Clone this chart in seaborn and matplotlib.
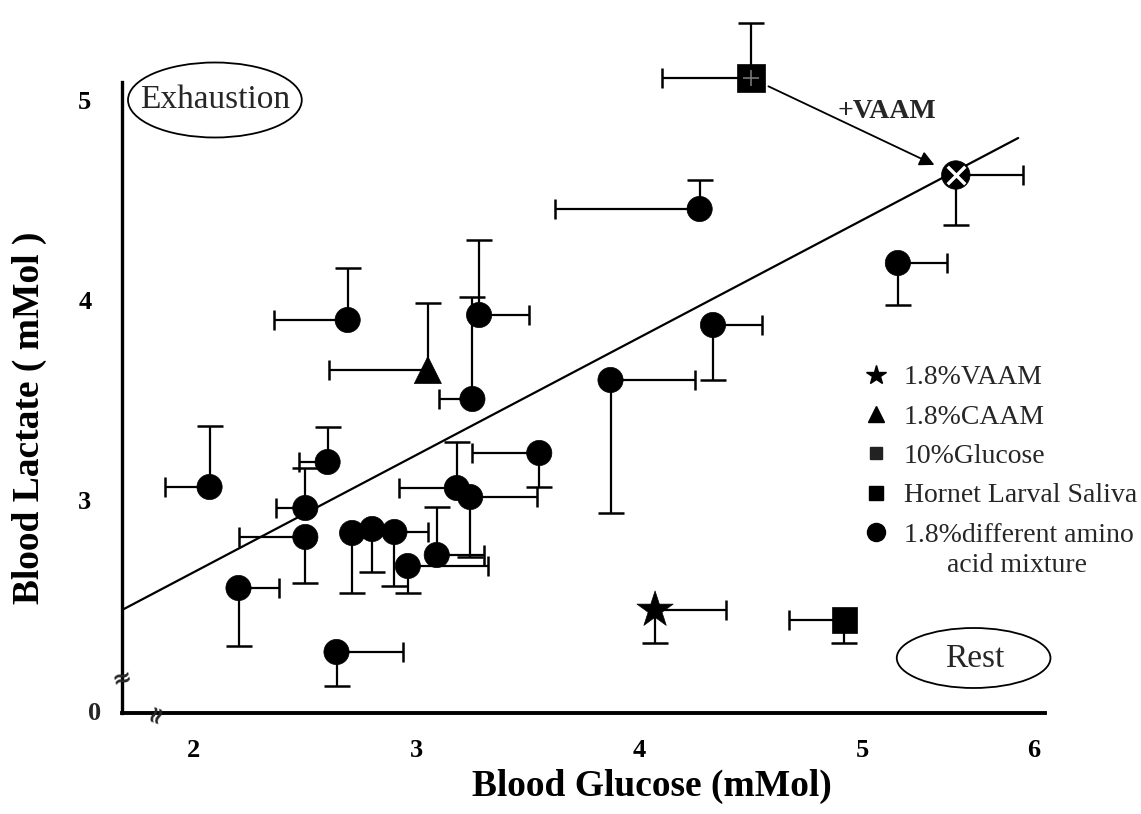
import numpy as np
import pandas as pd
import matplotlib
matplotlib.use("Agg")
import matplotlib.pyplot as plt
import seaborn as sns
from matplotlib.patches import Ellipse
from matplotlib.lines import Line2D

# ---------------- data ----------------
# signed errors: negative xerr -> bar to the left, negative yerr -> bar downwards
amino_x = [2.07, 2.20, 2.50, 2.50, 2.60, 2.64, 2.69, 2.71, 2.80, 2.90, 2.96,
           3.09, 3.18, 3.24, 3.25, 3.28, 3.55, 3.87, 4.27, 4.33, 5.16]
amino_y = [3.065, 2.56, 2.815, 2.96, 3.19, 2.24, 3.90, 2.835, 2.855, 2.84, 2.67,
           2.725, 3.06, 3.015, 3.505, 3.925, 3.235, 3.60, 4.455, 3.875, 4.185]
amino_xerr = [-0.20, 0.18, -0.30, -0.13, -0.13, 0.30, -0.33, 0.0, 0.0, 0.15, 0.36,
              0.21, -0.26, 0.30, -0.15, 0.225, -0.30, 0.38, -0.65, 0.22, 0.22]
amino_yerr = [0.305, -0.29, -0.23, 0.20, 0.175, -0.17, 0.26, -0.30, -0.215, -0.27, -0.135,
              0.24, 0.23, -0.30, 0.51, 0.375, -0.17, -0.665, 0.145, -0.275, -0.21]

vaam_x, vaam_y, vaam_xerr, vaam_yerr = [4.07], [2.45], [0.32], [-0.165]
caam_x, caam_y, caam_xerr, caam_yerr = [3.05], [3.65], [-0.445], [0.335]
gluc_x, gluc_y, gluc_xerr, gluc_yerr = [4.50], [5.11], [-0.40], [0.275]
horn_x, horn_y, horn_xerr, horn_yerr = [4.92], [2.40], [-0.25], [-0.115]
plus_x, plus_y, plus_xerr, plus_yerr = [5.42], [4.625], [0.30], [-0.25]

fit_x = [1.677, 5.70]
fit_y = [2.45, 4.81]

legend_labels = ["1.8%VAAM", "1.8%CAAM", "10%Glucose", "Hornet Larval Saliva",
                 "1.8%different amino"]
x_tick_vals = [2, 3, 4, 5, 5.77]
x_tick_labels = ["2", "3", "4", "5", "6"]
y_tick_vals = [3, 4, 5]
y_tick_labels = ["3", "4", "5"]

# ---------------- build table ----------------
groups = [("amino", amino_x, amino_y, amino_xerr, amino_yerr),
          ("vaam", vaam_x, vaam_y, vaam_xerr, vaam_yerr),
          ("caam", caam_x, caam_y, caam_xerr, caam_yerr),
          ("gluc", gluc_x, gluc_y, gluc_xerr, gluc_yerr),
          ("horn", horn_x, horn_y, horn_xerr, horn_yerr),
          ("plus", plus_x, plus_y, plus_xerr, plus_yerr)]
rows = []
for g, xs, ys, xe, ye in groups:
    for a, b, c, d in zip(xs, ys, xe, ye):
        rows.append(dict(group=g, x=a, y=b, xe=c, ye=d))
df = pd.DataFrame(rows)

sns.set_theme(style="white")
plt.rcParams["font.family"] = ["Liberation Serif", "DejaVu Serif"]

fig = plt.figure(figsize=(11.41, 8.14), dpi=100)
W, H = 1141, 814
ax = fig.add_axes([122 / W, (H - 713) / H, (1085 - 122) / W, 713 / H])

# error bars (one-sided)
left = np.clip(-df["xe"], 0, None)
right = np.clip(df["xe"], 0, None)
down = np.clip(-df["ye"], 0, None)
up = np.clip(df["ye"], 0, None)
ax.errorbar(df["x"], df["y"], xerr=[left, right], yerr=[down, up], fmt="none",
            ecolor="black", elinewidth=1.6, capsize=0, zorder=2)
hx = df[df["xe"] != 0]
ax.plot(hx["x"] + hx["xe"], hx["y"], ls="none", marker="|", ms=14, mew=1.8,
        color="black", zorder=2)
vy = df[df["ye"] != 0]
ax.plot(vy["x"], vy["y"] + vy["ye"], ls="none", marker="_", ms=19, mew=1.8,
        color="black", zorder=2)

# fit line
ax.plot(fit_x, fit_y, color="black", lw=1.6, zorder=1)

# markers via seaborn
markers = {"amino": "o", "vaam": "*", "caam": "^", "gluc": "s", "horn": "s", "plus": "o"}
sizes = {"amino": 330, "vaam": 750, "caam": 380, "gluc": 420, "horn": 340, "plus": 420}
sns.scatterplot(data=df, x="x", y="y", style="group", markers=markers,
                size="group", sizes=sizes, color="black", edgecolor="black",
                linewidth=0.5, legend=False, ax=ax, zorder=3)
ax.scatter(plus_x, plus_y, marker="x", s=160, color="white", linewidths=2.4, zorder=4)
ax.scatter(gluc_x, gluc_y, marker="+", s=120, color="#777777", linewidths=1.2, zorder=4)

# arrow glucose -> +VAAM
ax.annotate("", xy=(plus_x[0], plus_y[0]), xytext=(gluc_x[0], gluc_y[0]),
            arrowprops=dict(arrowstyle="-|>", color="black", lw=1.3,
                            mutation_scale=22, shrinkA=14, shrinkB=17), zorder=3)
ax.text(5.11, 4.94, "+VAAM", fontsize=20, fontweight="bold", ha="center", va="center")

# ellipses with labels
ax.add_patch(Ellipse((2.094, 5.0), 0.78, 0.375, fill=False, ec="black", lw=1.3, zorder=3,
                     clip_on=False))
ax.text(2.094, 5.0, "Exhaustion", fontsize=24, ha="center", va="center")
ax.add_patch(Ellipse((5.50, 2.21), 0.69, 0.30, fill=False, ec="black", lw=1.3, zorder=3))
ax.text(5.505, 2.205, "Rest", fontsize=24, ha="center", va="center")

# axes
ax.set_xlim(1.677, 6.0)
ax.set_ylim(1.935, 5.5)
for s in ["top", "right"]:
    ax.spines[s].set_visible(False)
ax.spines["left"].set_bounds(1.935, 5.09)
ax.spines["bottom"].set_bounds(1.677, 5.82)
ax.spines["left"].set_linewidth(2.4)
ax.spines["bottom"].set_linewidth(2.8)
for s in ["left", "bottom"]:
    ax.spines[s].set_color("black")
ax.set_xticks(x_tick_vals)
ax.set_xticklabels(x_tick_labels)
ax.set_yticks(y_tick_vals)
ax.set_yticklabels(y_tick_labels)
ax.tick_params(axis="x", direction="out", length=7, width=1.5, pad=12,
               labelsize=19, colors="black")
ax.tick_params(axis="y", direction="out", length=12, width=1.5, pad=10,
               labelsize=19, colors="black")
for t in ax.get_xticklabels() + ax.get_yticklabels():
    t.set_fontweight("bold")
ax.text((95 - 122) / 963, 1.935, "0", transform=ax.get_yaxis_transform(),
        fontsize=19, fontweight="bold", ha="center", va="center")

# axis breaks
ax.text(0.0, 2.11, "\u2248", transform=ax.get_yaxis_transform(), fontsize=17,
        family="DejaVu Sans", fontweight="bold", ha="center", va="center",
        rotation=15, clip_on=False, zorder=5)
ax.text(1.83, 1.935, "\u2248", fontsize=17, family="DejaVu Sans", fontweight="bold",
        ha="center", va="center", rotation=70, clip_on=False, zorder=5)

ax.set_xlabel("Blood Glucose (mMol)", fontsize=27, fontweight="bold", color="black")
ax.set_ylabel("Blood Lactate ( mMol )", fontsize=27, fontweight="bold", color="black")
ax.xaxis.set_label_coords(0.55, -0.078)
ax.yaxis.set_label_coords(-0.078, 0.414)

# legend
handles = [Line2D([], [], ls="none", marker="*", ms=15, color="black"),
           Line2D([], [], ls="none", marker="^", ms=11, color="black"),
           Line2D([], [], ls="none", marker="s", ms=9, color="#222222"),
           Line2D([], [], ls="none", marker="s", ms=10, color="black"),
           Line2D([], [], ls="none", marker="o", ms=13, color="black")]
leg = fig.legend(handles, legend_labels, loc="upper left",
                 bbox_to_anchor=(862 / W, 1 - 365 / H), frameon=False,
                 fontsize=20, handlelength=1.0, handletextpad=0.5,
                 labelspacing=0.5, borderpad=0, borderaxespad=0)
fig.text(1017 / W, 1 - 566 / H, "acid mixture", fontsize=20, ha="center", va="center")

fig.savefig("out.png", dpi=100)
